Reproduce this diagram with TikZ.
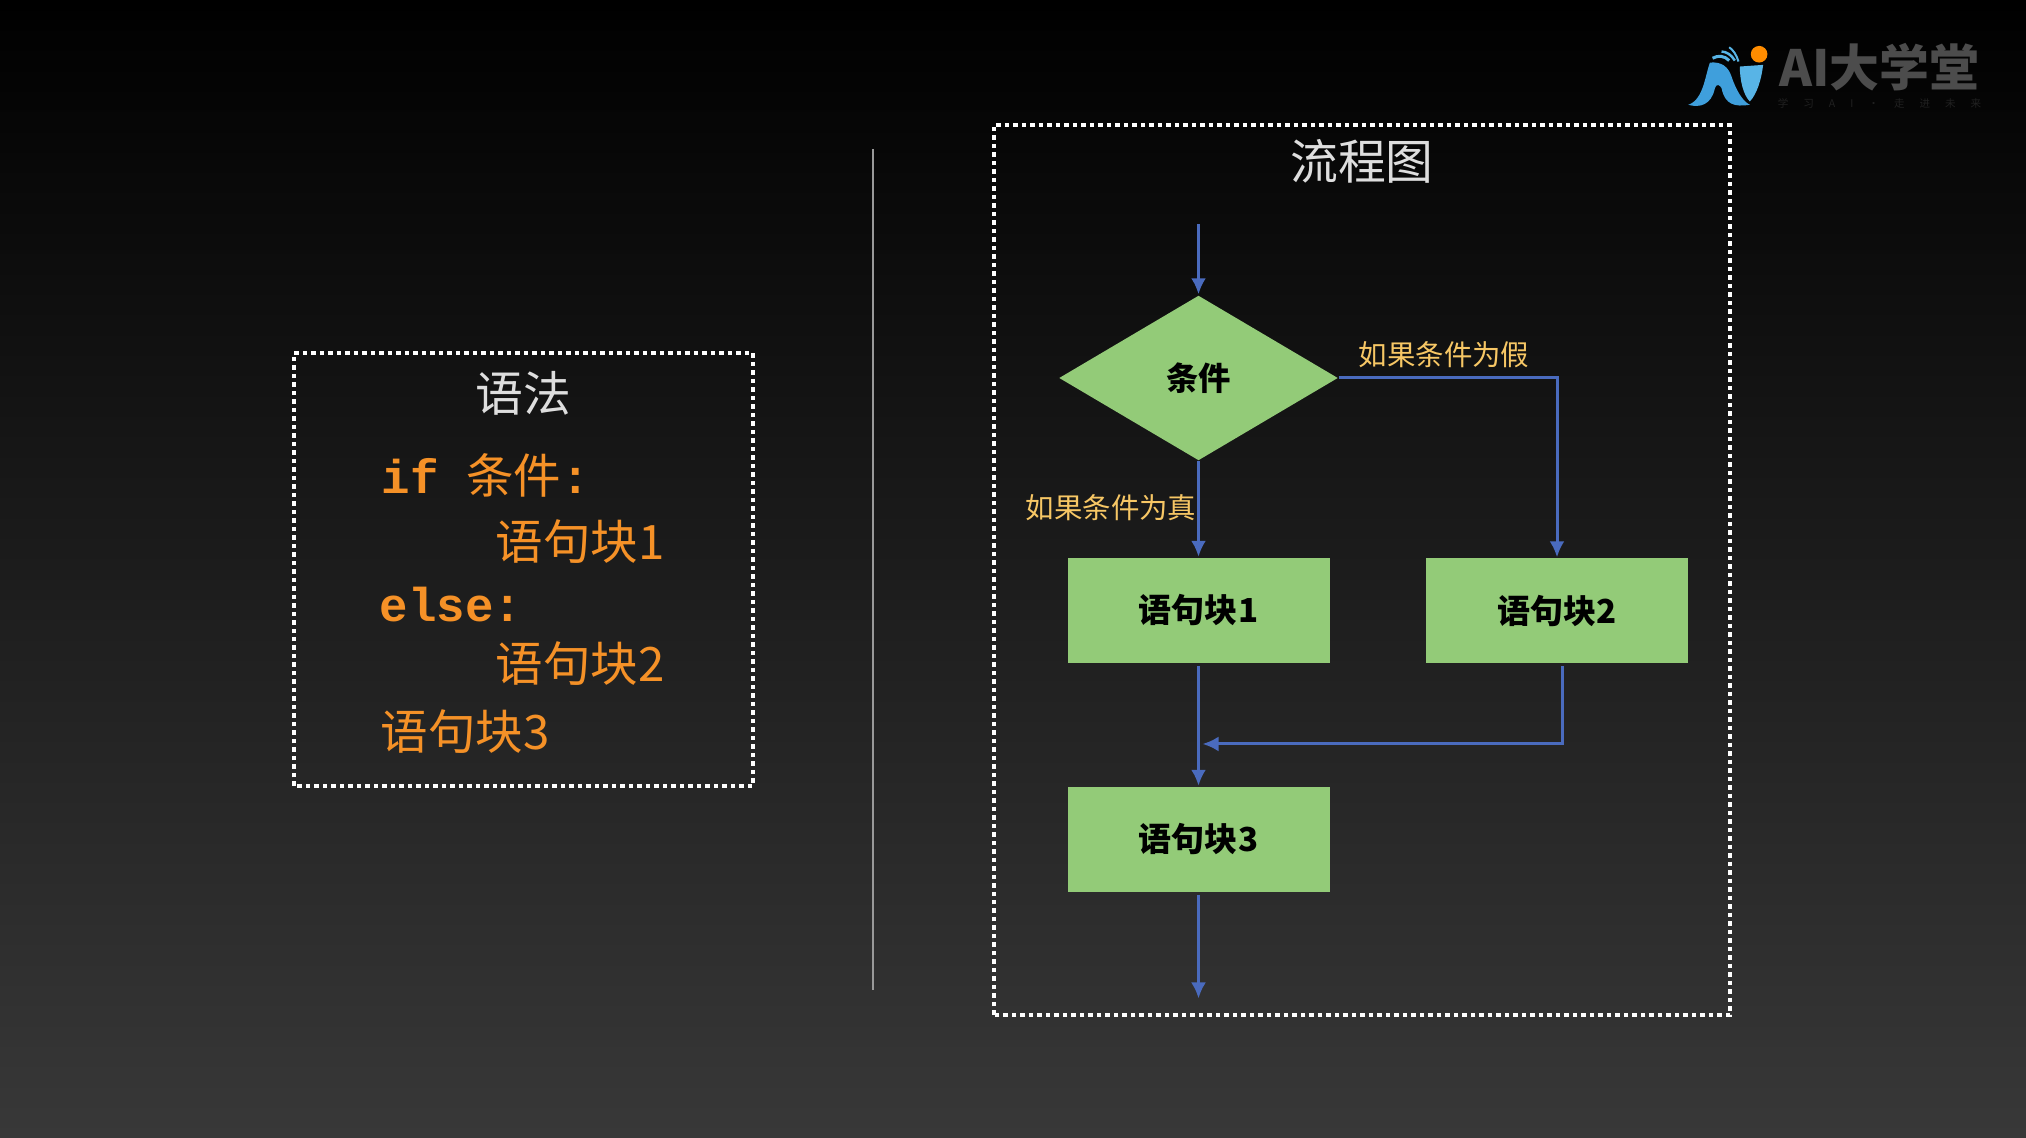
\documentclass[tikz,border=0pt]{standalone}
\usepackage{fontspec}
\setmainfont{Noto Sans CJK SC}
\newfontfamily\codefont{Liberation Mono}[BoldFont={Liberation Mono Bold}]
\usetikzlibrary{shapes.geometric,arrows.meta}
\definecolor{bgtop}{HTML}{000000}
\definecolor{bgbottom}{HTML}{383838}
\definecolor{boxgreen}{HTML}{93CB78}
\definecolor{flowblue}{HTML}{4A6BBE}
\definecolor{codeorange}{HTML}{F59127}
\definecolor{labelyellow}{HTML}{F7C765}
\definecolor{titlegrey}{HTML}{DEDEDE}
\definecolor{logoblue}{HTML}{3F9FDC}
\definecolor{logolight}{HTML}{58B4E6}
\tikzset{
	framebox/.style={draw=white, line width=.04cm, dash pattern=on .045cm off .04cm},
	flow/.style={draw=flowblue, line width=.03cm, -{Latex[length=.16cm,width=.15cm]}, shorten >=.005cm},
	blockbox/.style={fill=boxgreen, minimum width=2.62cm, minimum height=1.05cm, inner sep=0pt, font=\fontsize{9.4}{11}\selectfont\bfseries, text=black},
	condbox/.style={diamond, fill=boxgreen, minimum width=2.79cm, minimum height=1.65cm, inner sep=0pt, font=\fontsize{9.2}{11}\selectfont\bfseries, text=black},
	condlabel/.style={font=\fontsize{8.1}{10}\selectfont, text=labelyellow, inner sep=0pt},
	boxtitle/.style={font=\fontsize{13.6}{15}\selectfont, text=titlegrey, inner sep=0pt},
	codeline/.style={anchor=west, font=\fontsize{13.5}{15}\selectfont, text=codeorange, inner sep=0pt}
}
\begin{document}
\begin{tikzpicture}
	\useasboundingbox (0,0) rectangle (20.26,11.38);
	\shade[top color=bgtop, bottom color=bgbottom] (0,0) rectangle (20.26,11.38);
	%syntax panel
	\draw[framebox] (2.94,3.52) rectangle (7.53,7.85);
	\node[boxtitle] (syntaxtitle) at (5.23,7.45) {语法};
	\node[codeline] (codeif) at (3.81,6.63) {{\codefont\bfseries if} \hspace{.17cm}条件{\codefont\bfseries :}};
	\node[codeline] (codeblockone) at (4.95,5.96) {语句块1};
	\node[codeline] (codeelse) at (3.79,5.33) {\codefont\bfseries else:};
	\node[codeline] (codeblocktwo) at (4.95,4.74) {语句块2};
	\node[codeline] (codeblockthree) at (3.80,4.06) {语句块3};
	%divider
	\coordinate (dividertop) at (8.73,9.89);
	\coordinate (dividerbottom) at (8.73,1.48);
	\draw[color=gray!80, line width=.012cm] (dividertop) -- (dividerbottom);
	%flow chart panel
	\draw[framebox] (9.94,1.23) rectangle (17.30,10.13);
	\node[boxtitle] (charttitle) at (13.62,9.77) {流程图};
	\node[condbox] (cond) at (11.985,7.60) {条件};
	\node[blockbox] (blockone) at (11.985,5.275) {语句块1};
	\node[blockbox] (blocktwo) at (15.57,5.27) {语句块2};
	\node[blockbox] (blockthree) at (11.985,2.985) {语句块3};
	\coordinate (start) at (11.985,9.14);
	\coordinate (finish) at (11.985,1.39);
	\coordinate (merge) at (12.02,3.94);
	%connectors
	\draw[flow] (start) -- (cond);
	\draw[flow] (cond) -- (blockone);
	\draw[flow] (cond.east) -| (blocktwo.north);
	\draw[flow, shorten <=.02cm] (blockone) -- (blockthree);
	\draw[flow, shorten <=.02cm] ([xshift=.05cm]blocktwo.south) |- (merge);
	\draw[flow, shorten <=.02cm] (blockthree) -- (finish);
	\node[condlabel] (falselabel) at (14.44,7.83) {如果条件为假};
	\node[condlabel] (truelabel) at (11.11,6.30) {如果条件为真};
	%logo, in pixels of its own
	\begin{scope}[shift={(16.60,11.18)}, x=.00333cm, y=-.00333cm]
		\fill[logoblue] (85,255) .. controls (130,240) and (135,170) .. (150,128) .. controls (185,125) and (205,140) .. (215,170) .. controls (230,215) and (250,245) .. (270,255) .. controls (225,262) and (195,255) .. (185,205) .. controls (180,195) and (170,190) .. (165,205) .. controls (155,255) and (120,265) .. (85,255) -- cycle;
		\fill[logolight] (240,140) -- (310,135) .. controls (305,180) and (290,225) .. (270,245) .. controls (250,225) and (240,180) .. (240,140) -- cycle;
		\draw[logolight, line width=.03cm] (158,115) .. controls (175,105) and (195,108) .. (208,122);
		\draw[logolight, line width=.025cm] (185,95) .. controls (200,95) and (215,105) .. (225,122);
		\draw[logolight, line width=.02cm] (208,82) .. controls (220,90) and (230,105) .. (236,125);
		\fill[orange!90!yellow] (298,103) circle (25);
		\node[inner sep=0pt, font=\fontsize{14.2}{16}\selectfont\bfseries, text=black!70] (logotext) at (660,143) {AI大学堂};
		\node[inner sep=0pt, font=\fontsize{3}{4}\selectfont, text=black!87] (logosub) at (660,250) {学\hspace{.15cm}习\hspace{.15cm}A\hspace{.15cm}I\hspace{.15cm}·\hspace{.15cm}走\hspace{.15cm}进\hspace{.15cm}未\hspace{.15cm}来};
	\end{scope}
\end{tikzpicture}
\end{document}
